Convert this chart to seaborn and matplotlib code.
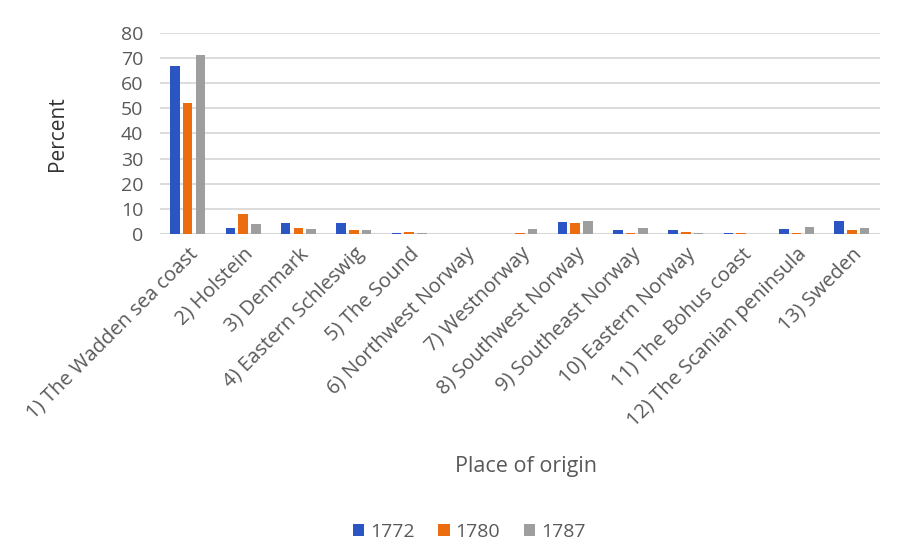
import matplotlib
matplotlib.use("Agg")
import matplotlib.pyplot as plt
import seaborn as sns
import pandas as pd

places = [
    "1) The Wadden sea coast", "2) Holstein", "3) Denmark", "4) Eastern Schleswig",
    "5) The Sound", "6) Northwest Norway", "7) Westnorway", "8) Southwest Norway",
    "9) Southeast Norway", "10) Eastern Norway", "11) The Bohus coast",
    "12) The Scanian peninsula", "13) Sweden",
]
years = ["1772", "1780", "1787"]
pct_1772 = [67.0, 2.4, 4.4, 4.4, 0.5, 0.0, 0.0, 4.9, 1.5, 1.5, 0.5, 1.9, 5.3]
pct_1780 = [52.0, 7.9, 2.4, 1.5, 0.9, 0.0, 0.4, 4.5, 0.5, 0.9, 0.5, 0.5, 1.5]
pct_1787 = [71.0, 4.0, 1.9, 1.5, 0.4, 0.0, 1.9, 5.3, 2.4, 0.4, 0.2, 2.9, 2.4]
yticks = [0, 10, 20, 30, 40, 50, 60, 70, 80]

df = pd.DataFrame({
    "place": places * 3,
    "year": [y for y in years for _ in places],
    "pct": pct_1772 + pct_1780 + pct_1787,
})

sns.set_theme(style="white")
plt.rcParams["font.family"] = ["Open Sans", "DejaVu Sans"]

fig = plt.figure(figsize=(9.04, 5.47), dpi=100)
ax = fig.add_axes([0.177, 0.572, 0.796, 0.368])

palette = {"1772": "#2A55C2", "1780": "#EC6C10", "1787": "#9E9E9E"}
sns.barplot(data=df, x="place", y="pct", hue="year", order=places,
            hue_order=years, palette=palette, saturation=1, width=0.69,
            gap=0.25, linewidth=0, ax=ax, legend=True)

ax.set_ylim(0, 80)
ax.set_yticks(yticks)
ax.yaxis.grid(True, color="#D9D9D9", linewidth=1.3)
ax.set_axisbelow(True)
for s in ax.spines.values():
    s.set_visible(False)
ax.axhline(0, color="#D4D4D4", linewidth=1.5, zorder=0)
ax.tick_params(axis="both", length=0, colors="#595959", labelsize=14)
ax.tick_params(axis="y", pad=12)
ax.tick_params(axis="x", pad=7, labelsize=14.5)
ax.set_xticks(range(len(places)))
ax.set_xticklabels(places, rotation=45, ha="right", rotation_mode="anchor")
ax.set_xlim(-0.5, len(places) - 0.5)
ax.set_ylabel("Percent", fontsize=15, color="#333333", labelpad=38)
ax.set_xlabel("")
fig.text(0.582, 0.147, "Place of origin", ha="center", va="center",
         fontsize=15.5, color="#595959")

handles, labels = ax.get_legend_handles_labels()
ax.legend_.remove()
fig.legend(handles, labels, loc="center", bbox_to_anchor=(0.519, 0.028), ncol=3,
           frameon=False, fontsize=14, handlelength=0.6, handleheight=0.6,
           handletextpad=0.3, columnspacing=1.2, labelcolor="#595959")

fig.savefig("out.png", dpi=100, facecolor="white")
